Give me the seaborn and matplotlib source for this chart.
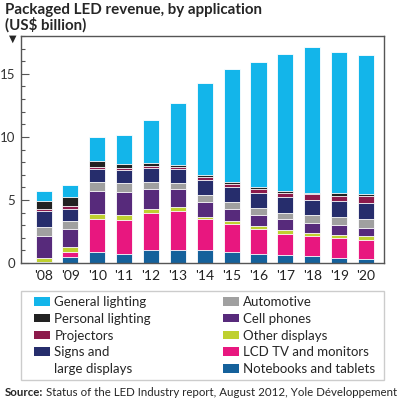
import numpy as np
import pandas as pd
import seaborn as sns
import matplotlib
matplotlib.use("Agg")
import matplotlib.pyplot as plt
from matplotlib.patches import Patch, Rectangle

# values in US$ billion
years = ["'08", "'09", "'10", "'11", "'12", "'13", "'14", "'15", "'16", "'17", "'18", "'19", "'20"]
notebooks = [0.08, 0.45, 0.86, 0.73, 1.00, 1.00, 1.00, 0.86, 0.73, 0.60, 0.52, 0.41, 0.33]
lcd_tv = [0.02, 0.45, 2.66, 2.71, 2.93, 3.11, 2.45, 2.20, 1.94, 1.73, 1.62, 1.60, 1.46]
other_displays = [0.27, 0.40, 0.40, 0.37, 0.32, 0.35, 0.21, 0.27, 0.27, 0.32, 0.24, 0.19, 0.32]
cell_phones = [1.78, 1.41, 1.81, 1.81, 1.60, 1.38, 1.20, 0.98, 0.85, 0.80, 0.80, 0.80, 0.66]
automotive = [0.74, 0.64, 0.72, 0.69, 0.58, 0.53, 0.53, 0.53, 0.59, 0.53, 0.61, 0.66, 0.74]
signs = [1.25, 0.96, 1.01, 1.06, 1.09, 1.09, 1.20, 1.20, 1.20, 1.22, 1.20, 1.28, 1.28]
projectors = [0.13, 0.19, 0.13, 0.13, 0.20, 0.19, 0.25, 0.22, 0.27, 0.37, 0.45, 0.40, 0.50]
personal_lighting = [0.66, 0.74, 0.53, 0.35, 0.20, 0.13, 0.15, 0.13, 0.16, 0.16, 0.13, 0.19, 0.16]
general_lighting = [0.74, 0.93, 1.86, 2.30, 3.38, 4.87, 7.26, 8.96, 9.95, 10.83, 11.57, 11.22, 11.01]

# stacking order, bottom to top
layers = [
    ("Notebooks and tablets", notebooks, "#15619b"),
    ("LCD TV and monitors", lcd_tv, "#e8177f"),
    ("Other displays", other_displays, "#bfd02f"),
    ("Cell phones", cell_phones, "#572a7b"),
    ("Automotive", automotive, "#a0a0a0"),
    ("Signs and", signs, "#262d6c"),
    ("Projectors", projectors, "#8c1a4b"),
    ("Personal lighting", personal_lighting, "#222222"),
    ("General lighting", general_lighting, "#13b5ea"),
]

sns.set_style("white")
plt.rcParams["font.family"] = ["Lato", "DejaVu Sans"]

fig = plt.figure(figsize=(4, 4), dpi=100)
ax = fig.add_axes([0.0525, 0.3425, 0.9075, 0.5675])

df = pd.DataFrame({"year": years})
cum = np.cumsum(np.array([vals for _, vals, _ in layers]), axis=0)
# draw tallest stack first so each lower layer covers the one above it
for i in range(len(layers) - 1, -1, -1):
    df["total"] = cum[i]
    sns.barplot(data=df, x="year", y="total", color=layers[i][2], width=0.6,
                edgecolor="white", linewidth=0.6, errorbar=None, saturation=1, ax=ax)

ax.set_xlim(-0.84, 12.67)
ax.set_ylim(0, 18)
ax.set_yticks([0, 5, 10, 15])
ax.set_yticks(range(0, 19), minor=True)
ax.set_xlabel("")
ax.set_ylabel("")
ax.tick_params(axis="y", which="major", direction="in", length=6, width=0.8,
               color="#555555", labelsize=9.5, labelcolor="#333333", pad=4, left=True)
ax.tick_params(axis="y", which="minor", direction="in", length=3, width=0.8,
               color="#555555", left=True)
ax.tick_params(axis="x", length=0, labelsize=10, labelcolor="#222222", pad=5)
for s in ax.spines.values():
    s.set_color("#555555")
    s.set_linewidth(1)

fig.text(0.0125, 0.993, "Packaged LED revenue, by application\n(US$ billion)",
         ha="left", va="top", fontsize=10.9, fontweight="bold", linespacing=1.05)
fig.text(0.032, 0.902, "\u25bc", ha="center", va="center", fontsize=7,
         family=["DejaVu Sans"])

# legend: two columns in one light frame
fig.add_artist(Rectangle((0.0525, 0.05), 0.9075, 0.2225, transform=fig.transFigure,
                         fill=False, edgecolor="#cccccc", linewidth=1))
by_name = {name: color for name, _, color in layers}
left_names = ["General lighting", "Personal lighting", "Projectors", "Signs and"]
right_names = ["Automotive", "Cell phones", "Other displays", "LCD TV and monitors",
               "Notebooks and tablets"]
left_handles = [Patch(facecolor=by_name[n], edgecolor="none") for n in left_names]
left_handles.append(Patch(facecolor="none", edgecolor="none"))
leg_kw = dict(frameon=False, fontsize=9.5, handlelength=1.2, handleheight=0.62,
              handletextpad=0.35, labelspacing=0.36, borderpad=0, borderaxespad=0,
              loc="upper left")
fig.legend(left_handles, left_names + ["large displays"],
           bbox_to_anchor=(0.085, 0.26), **leg_kw)
fig.legend([Patch(facecolor=by_name[n], edgecolor="none") for n in right_names],
           right_names, bbox_to_anchor=(0.557, 0.26), **leg_kw)

src = fig.text(0.0125, 0.02, "Source:", ha="left", va="center", fontsize=8.3,
               fontweight="bold")
fig.canvas.draw()
bb = src.get_window_extent(fig.canvas.get_renderer())
fig.text(bb.x1 / fig.bbox.width + 0.006, 0.02,
         "Status of the LED Industry report, August 2012, Yole D\u00e9veloppement",
         ha="left", va="center", fontsize=8.3)

fig.savefig("out.png", dpi=100)
